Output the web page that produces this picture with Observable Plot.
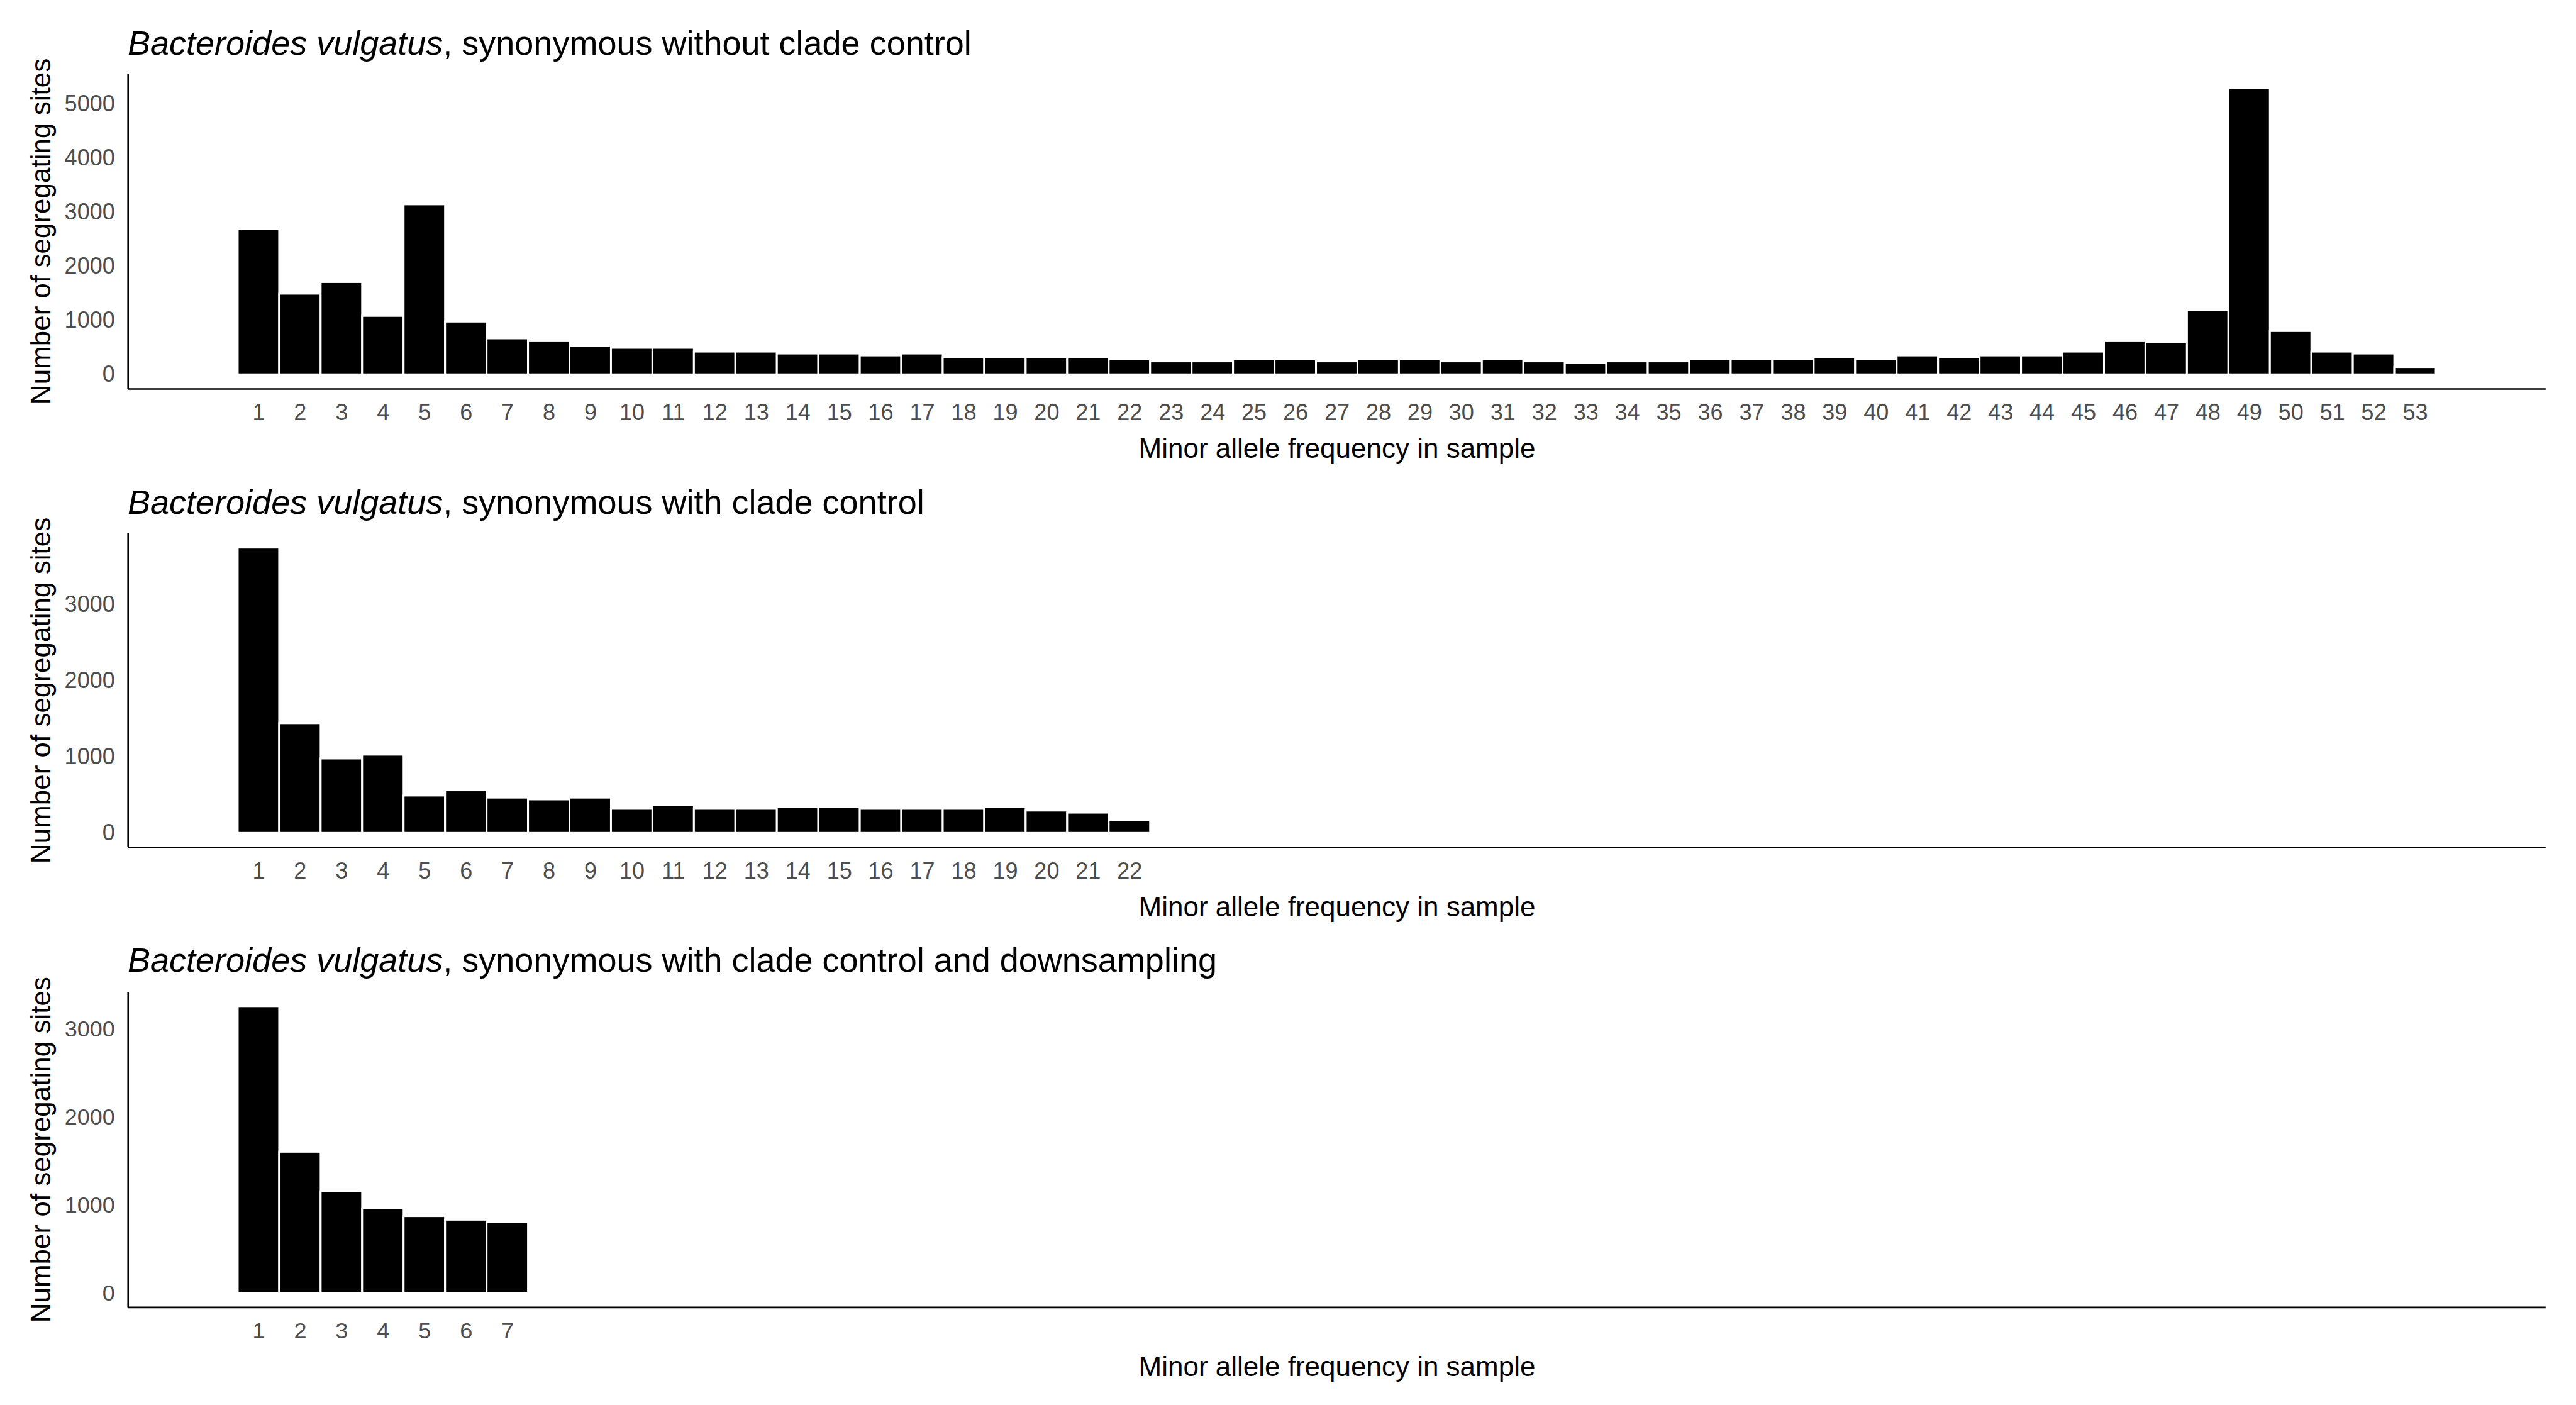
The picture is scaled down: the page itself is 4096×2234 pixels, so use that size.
<!DOCTYPE html>
<html>
<head>
<meta charset="utf-8">
<script src="https://cdn.jsdelivr.net/npm/d3@7"></script>
<script src="https://cdn.jsdelivr.net/npm/@observablehq/plot@0.6"></script>
<style>
  html, body { margin: 0; padding: 0; background: #ffffff; overflow: hidden; }
  #root { position: relative; width: 4096px; height: 2234px; background: #ffffff; font-family: "Liberation Sans", Arial, sans-serif; }
  .panel { position: absolute; left: 0; }
  .panel svg { background: transparent !important; display: block; }
  .title { position: absolute; left: 203px; font-size: 54px; line-height: 54px; color: #000; white-space: nowrap; font-family: "Liberation Sans", Arial, sans-serif; }
</style>
</head>
<body>
<div id="root"></div>
<script>
// ---- Data ----
const species = "Bacteroides vulgatus";
const titleSuffixes = [
  ", synonymous without clade control",
  ", synonymous with clade control",
  ", synonymous with clade control and downsampling"
];
const xAxisTitle = "Minor allele frequency in sample";
const yAxisTitle = "Number of segregating sites";

// Panel 1: without clade control (minor allele frequency 1..53)
const countsNoClade = [
  2680, 1490, 1705, 1080, 3140, 975, 665, 625, 525, 490,
  490, 420, 420, 385, 385, 350, 385, 315, 315, 315,
  315, 280, 240, 240, 280, 280, 240, 280, 280, 240,
  280, 240, 210, 240, 240, 280, 280, 280, 315, 280,
  350, 315, 350, 350, 420, 625, 590, 1185, 5290, 800,
  420, 385, 135
];
// Panel 2: with clade control (1..22)
const countsClade = [
  3741, 1439, 976, 1026, 490, 559, 463, 440, 463, 316,
  366, 316, 316, 339, 339, 316, 316, 316, 339, 293,
  266, 170
];
// Panel 3: with clade control and downsampling (1..7)
const countsDown = [3258, 1603, 1153, 961, 872, 831, 807];

const yTicksNoClade = [0, 1000, 2000, 3000, 4000, 5000];
const yTicksClade = [0, 1000, 2000, 3000];
const yTicksDown = [0, 1000, 2000, 3000];

// shared x extent (bars span 0.5..53.5 with 5% expansion)
const xDomain = [-2.15, 56.15];

// ---- Layout (output pixels) ----
const W = 4096;
const mLeft = 203.2, mRight = W - 4047.8;
const mTop = 100, mBottom = 140;
const font = "Liberation Sans, Arial, sans-serif";

const panels = [
  {counts: countsNoClade, ticks: yTicksNoClade, frameTop: 117.2, frameH: 501, titleBase: 86.5, suffix: titleSuffixes[0]},
  {counts: countsClade, ticks: yTicksClade, frameTop: 848.2, frameH: 499, titleBase: 816.8, suffix: titleSuffixes[1]},
  {counts: countsDown, ticks: yTicksDown, frameTop: 1577.2, frameH: 501.4, titleBase: 1544.7, suffix: titleSuffixes[2]}
];

const root = document.getElementById("root");

for (const p of panels) {
  const data = p.counts.map((v, i) => ({k: i + 1, v}));
  const max = d3.max(p.counts);
  const pad = max * 0.05;
  const H = mTop + p.frameH + mBottom;
  const chart = Plot.plot({
    width: W,
    height: H,
    marginLeft: mLeft,
    marginRight: mRight,
    marginTop: mTop,
    marginBottom: mBottom,
    x: {domain: xDomain, axis: null},
    y: {domain: [-pad, max + pad], axis: null},
    style: {fontFamily: font, background: "transparent", overflow: "visible"},
    marks: [
      Plot.rectY(data, {x1: d => d.k - 0.5, x2: d => d.k + 0.5, y1: 0, y2: "v", fill: "#000000", stroke: "#ffffff", strokeWidth: 3}),
      Plot.axisX(data.map(d => d.k), {tickSize: 0, tickPadding: 23.5, fontSize: 36, fill: "#4d4d4d", label: null, tickFormat: d => String(d)}),
      Plot.axisY(p.ticks, {tickSize: 0, tickPadding: 21, fontSize: 36, fill: "#4d4d4d", label: null, tickFormat: d => String(d)}),
      Plot.ruleX([xDomain[0]], {stroke: "#000000", strokeWidth: 2.6}),
      Plot.ruleY([-pad], {stroke: "#000000", strokeWidth: 2.6}),
      Plot.text([yAxisTitle], {frameAnchor: "left", textAnchor: "middle", lineAnchor: "middle", dx: -138, rotate: -90, fontSize: 44, fill: "#000000", fontFamily: font}),
      Plot.text([xAxisTitle], {frameAnchor: "bottom", textAnchor: "middle", lineAnchor: "middle", dy: 95, fontSize: 44, fill: "#000000", fontFamily: font})
    ]
  });
  const holder = document.createElement("div");
  holder.className = "panel";
  holder.style.top = (p.frameTop - mTop) + "px";
  holder.appendChild(chart);
  root.appendChild(holder);
}

for (const p of panels) {
  const t = document.createElement("div");
  t.className = "title";
  t.style.top = (p.titleBase - 45.7) + "px";
  const it = document.createElement("i");
  it.textContent = species;
  t.appendChild(it);
  t.appendChild(document.createTextNode(p.suffix));
  root.appendChild(t);
}
</script>
</body>
</html>
